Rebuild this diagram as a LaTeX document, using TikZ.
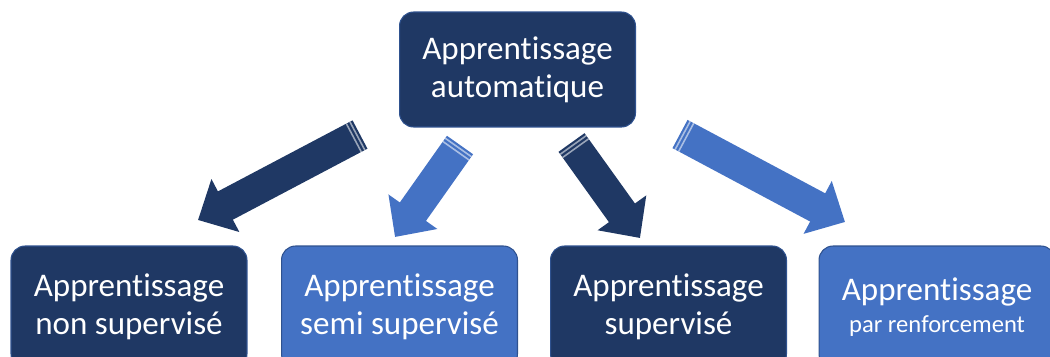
\documentclass[tikz,border=0pt]{standalone}
\usepackage{fontspec}
\setmainfont{Carlito}[Ligatures=NoCommon]
\usetikzlibrary{arrows.meta}
\usetikzlibrary{calc}

\definecolor{navy}{RGB}{31,56,100}
\definecolor{azure}{RGB}{68,114,196}
\definecolor{rim}{RGB}{47,82,143}

% two light bands across the tail of a block arrow
\newcommand{\tailbands}[2]{%
  \foreach \d in {0.06,0.14} {
    \coordinate (band) at ($(#1)!\d cm!(#2)$);
    \draw [white, opacity=0.55, line width=0.9pt]
      ($(band)!0.32cm!90:(#2)$) -- ($(band)!0.32cm!-90:(#2)$);
  }
}

\begin{document}
\begin{tikzpicture}[
    x=0.02cm, y=-0.02cm,
    box/.style={rounded corners=0.28cm, draw=rim, line width=0.6pt,
      text=white, align=center, inner sep=0pt, minimum width=4.72cm,
      font=\fontsize{18.8pt}{21.5pt}\selectfont},
    darkbox/.style={box, fill=navy},
    lightbox/.style={box, fill=azure},
    bigarrow/.style={line width=0.64cm,
      -{Triangle[length=0.62cm, width=1.16cm]}}]

    \useasboundingbox (0,0) rectangle (1050,356);

    % root box
    \node[darkbox, minimum height=2.3cm] at (517.5,69.5) (auto)
      {Apprentissage\\automatique};

    % the four kinds, cut off by the lower edge
    \node[darkbox, minimum height=2.44cm] at (129,307) (nonsup)
      {Apprentissage\\non supervisé};
    \node[lightbox, minimum height=2.44cm] at (399.5,307) (semisup)
      {Apprentissage\\semi supervisé};
    \node[darkbox, minimum height=2.44cm] at (668.5,307) (sup)
      {Apprentissage\\supervisé};
    \node[lightbox, minimum height=2.44cm] at (937,307) (renf)
      {Apprentissage\\[-3pt]{\fontsize{14pt}{16.4pt}\selectfont par renforcement}};

    % tails and tips of the block arrows
    \coordinate (t1) at (360,134.5);
    \coordinate (h1) at (198,220);
    \coordinate (t2) at (460,145);
    \coordinate (h2) at (395,237);
    \coordinate (t3) at (571.5,142.5);
    \coordinate (h3) at (640,238);
    \coordinate (t4) at (680,134);
    \coordinate (h4) at (845,222);

    \draw [bigarrow, navy] (t1) -- (h1);
    \tailbands{t1}{h1}
    \draw [bigarrow, azure] (t2) -- (h2);
    \tailbands{t2}{h2}
    \draw [bigarrow, navy] (t3) -- (h3);
    \tailbands{t3}{h3}
    \draw [bigarrow, azure] (t4) -- (h4);
    \tailbands{t4}{h4}

\end{tikzpicture}
\end{document}
